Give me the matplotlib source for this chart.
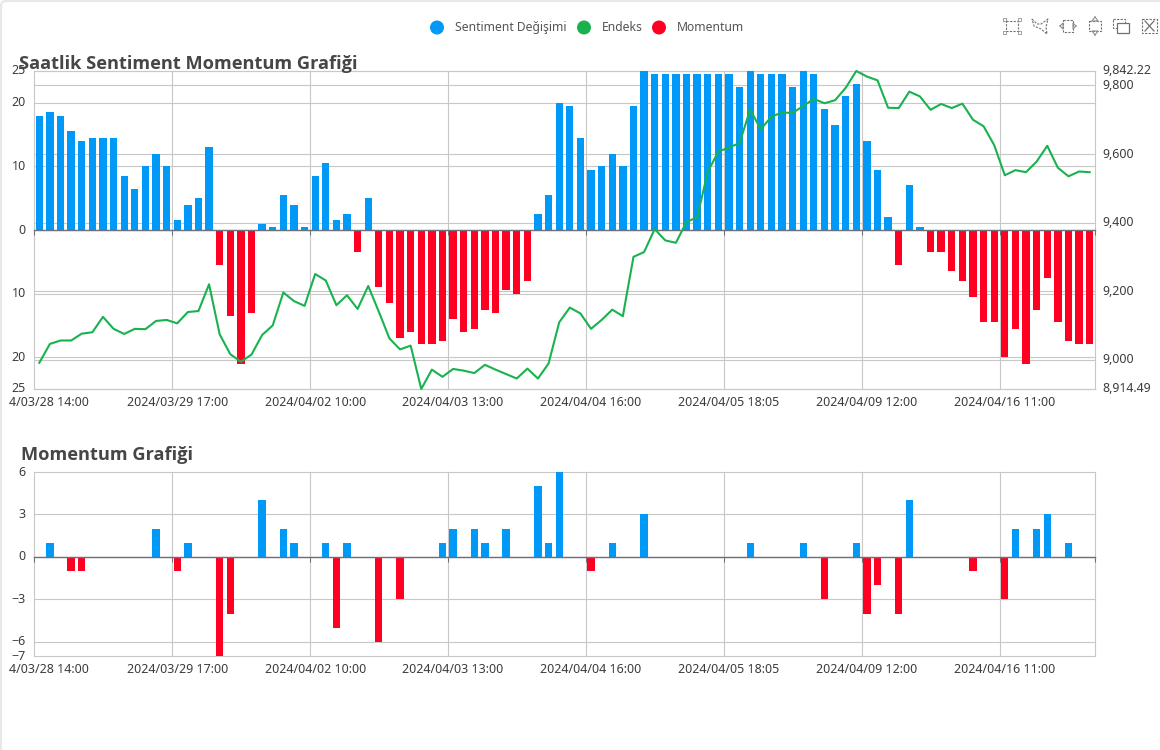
import matplotlib
matplotlib.use("Agg")
import matplotlib.pyplot as plt
import matplotlib.transforms as mtransforms
from matplotlib.patches import Rectangle, Circle, FancyBboxPatch

plt.rcParams["font.family"] = ["Noto Sans", "DejaVu Sans"]

W, H = 1160, 750
BLUE = "#0099F8"
RED = "#FF0022"
GREEN = "#19B24F"
GRID = "#C8C8C8"
AXIS = "#6E7079"
TEXT = "#3C3C3C"

sentiment = [18, 18.5, 18, 15.5, 14, 14.5, 14.5, 14.5, 8.5, 6.5, 10, 12, 10, 1.5, 4, 5, 13,
             -5.5, -13.5, -21, -13, 1, 0.5, 5.5, 4, 0.5, 8.5, 10.5, 1.5, 2.5, -3.5, 5,
             -9, -11.5, -17, -16, -18, -18, -17.5, -14, -16, -15.5, -12.5, -13, -9.5, -10, -8,
             2.5, 5.5, 20, 19.5, 14.5, 9.5, 10, 12, 10, 19.5, 25, 24.5, 24.5, 24.5, 24.5, 24.5,
             24.5, 24.5, 24.5, 22.5, 25, 24.5, 24.5, 24.5, 22.5, 25, 24.5, 19, 16.5, 21, 23,
             14, 9.5, 2, -5.5, 7, 0.5, -3.5, -3.5, -6.5, -8, -10.5, -14.5, -14.5, -20, -15.5,
             -21, -12.5, -7.5, -14.5, -17.5, -18, -18]

endeks = [8991, 9046, 9056, 9056, 9076, 9080, 9125, 9090, 9075, 9090, 9089, 9113, 9116, 9106,
          9139, 9142, 9220, 9074, 9016, 8994, 9015, 9072, 9100, 9196, 9171, 9157, 9250, 9231,
          9159, 9188, 9148, 9215, 9140, 9062, 9030, 9041, 8914.49, 8971, 8950, 8973, 8968, 8961,
          8985, 8971, 8958, 8945, 8974, 8945, 8989, 9109, 9152, 9135, 9090, 9116, 9146, 9127,
          9300, 9314, 9381, 9348, 9341, 9402, 9415, 9548, 9607, 9619, 9632, 9730, 9672, 9709,
          9721, 9720, 9740, 9761, 9748, 9757, 9793, 9842.22, 9826, 9815, 9735, 9734, 9782, 9768,
          9729, 9746, 9734, 9747, 9700, 9681, 9626, 9538, 9553, 9547, 9578, 9624, 9560, 9535,
          9549, 9547]

momentum = [0, 1, 0, -1, -1, 0, 0, 0, 0, 0, 0, 2, 0, -1, 1, 0, 0, -7, -4, 0, 0, 4, 0, 2, 1,
            0, 0, 1, -5, 1, 0, 0, -6, 0, -3, 0, 0, 0, 1, 2, 0, 2, 1, 0, 2, 0, 0, 5, 1, 6,
            0, 0, -1, 0, 1, 0, 0, 3, 0, 0, 0, 0, 0, 0, 0, 0, 0, 1, 0, 0, 0, 0, 1, 0, -3,
            0, 0, 1, -4, -2, 0, -4, 4, 0, 0, 0, 0, 0, -1, 0, 0, -3, 2, 0, 2, 3, 0, 1, 0, 0]

tick_labels = ["4/03/28 14:00", "2024/03/29 17:00", "2024/04/02 10:00", "2024/04/03 13:00",
               "2024/04/04 16:00", "2024/04/05 18:05", "2024/04/09 12:00", "2024/04/16 11:00"]
left_ticks = [-25, -20, -10, 0, 10, 20, 25]
right_ticks = [8914.49, 9000, 9200, 9400, 9600, 9800, 9842.22]
bottom_ticks = [-7, -6, -3, 0, 3, 6]

legend_names = ["Sentiment Değişimi", "Endeks", "Momentum"]


def make_axes(fig, top, bottom):
    ax = fig.add_axes([34 / W, 1 - bottom / H, 1061 / W, (bottom - top) / H])
    ax.set_xlim(-0.5, 99.5)
    ax.patch.set_visible(False)
    for side in ["top", "right", "left"]:
        ax.spines[side].set_visible(False)
    ax.spines["bottom"].set_position(("data", 0))
    ax.spines["bottom"].set_color(AXIS)
    ax.spines["bottom"].set_linewidth(1.0)
    ax.set_xticks([i * 13 - 0.5 for i in range(len(tick_labels))] + [99.5])
    ax.tick_params(axis="x", length=3.6, width=0.75, color=AXIS, labelbottom=False)
    ax.tick_params(axis="y", length=0, pad=6, labelsize=9, labelcolor=TEXT)
    ax.grid(axis="x", color=GRID, lw=0.8, zorder=0)
    ax.set_axisbelow(True)
    for i, lab in enumerate(tick_labels):
        if i == 0:
            # first label runs off the canvas, only its tail is visible
            ax.annotate(lab, (0, 0), xycoords=("data", "axes fraction"), xytext=(36, -9.4),
                        textcoords="offset points", ha="right", va="center", fontsize=9, color=TEXT)
        else:
            ax.annotate(lab, (i * 13, 0), xycoords=("data", "axes fraction"), xytext=(0, -9.4),
                        textcoords="offset points", ha="center", va="center", fontsize=9, color=TEXT)
    return ax


def finish_axis(ax):
    # edge grid lines would lose half their width to the axes clip
    for line in ax.get_xgridlines() + ax.get_ygridlines():
        line.set_clip_on(False)
    # value labels sit a little above their grid lines
    shift = mtransforms.ScaledTranslation(0, 1.5 / 100, fig.dpi_scale_trans)
    for lab in ax.get_yticklabels():
        lab.set_transform(lab.get_transform() + shift)


def bar_colors(values):
    return [BLUE if v >= 0 else RED for v in values]


fig = plt.figure(figsize=(W / 100, H / 100), dpi=100, facecolor="white")

# page furniture in pixel coordinates
page = fig.add_axes([0, 0, 1, 1])
page.set_xlim(0, W)
page.set_ylim(H, 0)
page.axis("off")
page.add_patch(FancyBboxPatch((1, 1), W + 20, H + 20, boxstyle="round,pad=0,rounding_size=5",
                              fc="white", ec="#E8E8E8", lw=1.6))

legend_x = [437, 584, 659]
legend_text_x = [455, 602, 677]
for x, tx, c, name in zip(legend_x, legend_text_x, [BLUE, GREEN, RED], legend_names):
    page.add_patch(Circle((x, 27.5), 7, fc=c, ec="none"))
    page.text(tx, 27.3, name, fontsize=8.75, color="#555555", va="center", ha="left")

# toolbox icons
icon = dict(color="#707070", lw=0.8, ls=(0, (2, 1.2)))
page.add_patch(Rectangle((1006, 21), 12, 10, fill=False, **icon))
for cx in [1004.5, 1019.5]:
    for cy in [19.5, 32.5]:
        page.add_patch(Rectangle((cx - 1.2, cy - 1.2), 2.4, 2.4, fill=False, color="#909090", lw=0.6))
page.plot([1032, 1037, 1041, 1048, 1046, 1047, 1041, 1034, 1032],
          [19, 24, 24, 19, 27, 34, 29, 26, 19], **icon)
page.add_patch(Rectangle((1063, 20), 10, 12, fill=False, **icon))
page.plot([1060, 1063, 1063, 1060], [26, 23, 29, 26], color="#909090", lw=0.8)
page.plot([1076, 1073, 1073, 1076], [26, 23, 29, 26], color="#909090", lw=0.8)
page.add_patch(Rectangle((1089, 21), 12, 10, fill=False, **icon))
page.plot([1095, 1092, 1098, 1095], [17, 21, 21, 17], color="#909090", lw=0.8)
page.plot([1095, 1092, 1098, 1095], [35, 31, 31, 35], color="#909090", lw=0.8)
page.add_patch(Rectangle((1113, 19), 12, 9, fill=False, **icon))
page.add_patch(Rectangle((1117, 23), 12, 10, fc="white", ec="#707070", lw=0.9))
page.add_patch(Rectangle((1142, 19), 15, 14, fill=False, **icon))
page.plot([1145, 1154], [21, 31], color="#707070", lw=0.9)
page.plot([1154, 1145], [21, 31], color="#707070", lw=0.9)

# top chart
ax1 = make_axes(fig, 71, 389)
ax1.set_ylim(-25, 25)
ax2 = ax1.twinx()
ax2.set_ylim(right_ticks[0], right_ticks[-1])
ax2.patch.set_visible(False)
for sp in ax2.spines.values():
    sp.set_visible(False)

ax1.set_yticks(left_ticks)
ax1.set_yticklabels([str(abs(v)) for v in left_ticks])
ax1.grid(axis="y", color=GRID, lw=0.8, zorder=0)

# right axis grid goes on ax1 so it stays behind the bars
blend = mtransforms.blended_transform_factory(ax1.transAxes, ax2.transData)
for v in right_ticks:
    ax1.plot([0, 1], [v, v], transform=blend, color=GRID, lw=0.8, zorder=0.5, clip_on=False)

ax1.bar(range(len(sentiment)), sentiment, width=0.69, color=bar_colors(sentiment), zorder=2)
ax2.plot(range(len(endeks)), endeks, color=GREEN, lw=1.5, clip_on=False, zorder=3)
ax2.set_yticks(right_ticks)
ax2.set_yticklabels([f"{v:,.2f}" if v % 1 else f"{v:,.0f}" for v in right_ticks])
ax2.tick_params(axis="y", length=0, pad=5, labelsize=8.9, labelcolor=TEXT)

# bottom chart
ax3 = make_axes(fig, 472, 656)
ax3.set_ylim(-7, 6)
ax3.set_yticks(bottom_ticks)
ax3.grid(axis="y", color=GRID, lw=0.8, zorder=0)
ax3.bar(range(len(momentum)), momentum, width=0.69, color=bar_colors(momentum), zorder=2)

for a in [ax1, ax2, ax3]:
    finish_axis(a)

# titles last, the upper one sits on top of the "25" label
title_font = dict(family="Open Sans", fontsize=13.15, fontweight="bold", color="#464646", va="center", ha="left", zorder=10)
fig.text(19 / W, 1 - 64.3 / H, "Saatlik Sentiment Momentum Grafiği", **title_font)
fig.text(21 / W, 1 - 455 / H, "Momentum Grafiği", **title_font)

fig.savefig("out.png", dpi=100)
